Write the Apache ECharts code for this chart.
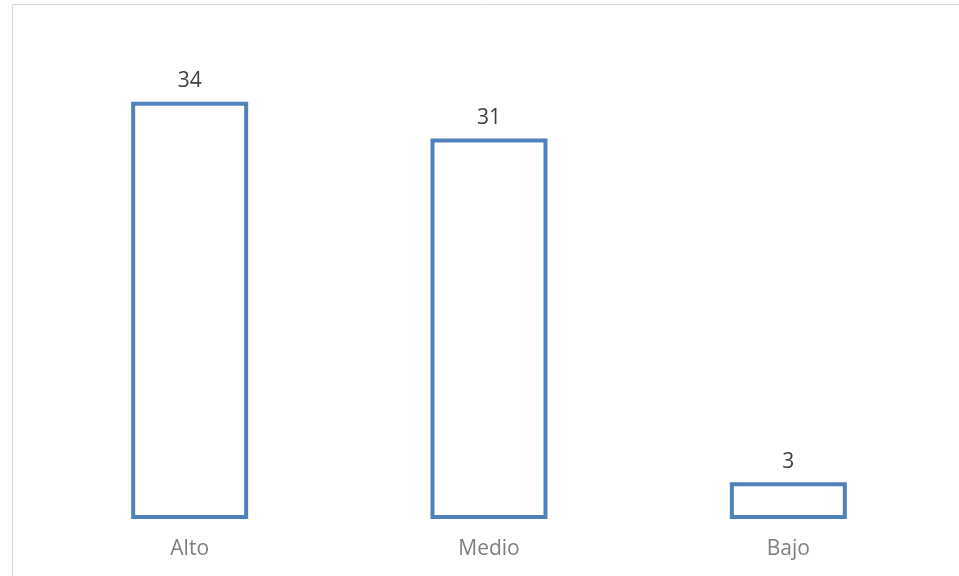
<!DOCTYPE html>
<html><head><meta charset="utf-8">
<script src="https://cdn.jsdelivr.net/npm/echarts@6/dist/echarts.min.js"></script>
<style>html,body{margin:0;padding:0;background:#fff}#c{width:959px;height:576px}</style>
</head><body><div id="c"></div>
<script>
const categories = ['Alto', 'Medio', 'Bajo'];
const values = [34, 31, 3];

const chart = echarts.init(document.getElementById('c'));
chart.setOption({
  animation: false,
  backgroundColor: '#fff',
  graphic: [{
    type: 'rect', left: 10, top: 2, silent: true,
    shape: { x: 0.5, y: 0.5, width: 960, height: 600 },
    style: { fill: 'none', stroke: '#d9d9d9', lineWidth: 1 }
  }],
  grid: { left: 40, right: 21, top: 28, bottom: 57 },
  xAxis: {
    type: 'category', data: categories,
    axisLine: { show: false }, axisTick: { show: false },
    axisLabel: { color: '#7f7f7f', fontFamily: 'Open Sans', fontSize: 21, margin: 20 }
  },
  yAxis: {
    type: 'value', min: 0, max: 40, interval: 5,
    show: false, splitLine: { show: false }
  },
  series: [{
    type: 'bar', data: values, barWidth: 117,
    itemStyle: { color: '#fff', borderColor: '#4f81bd', borderWidth: 4 },
    label: { show: true, position: 'top', distance: 10, color: '#404040', fontFamily: 'Open Sans', fontSize: 21 }
  }]
});
</script></body></html>
